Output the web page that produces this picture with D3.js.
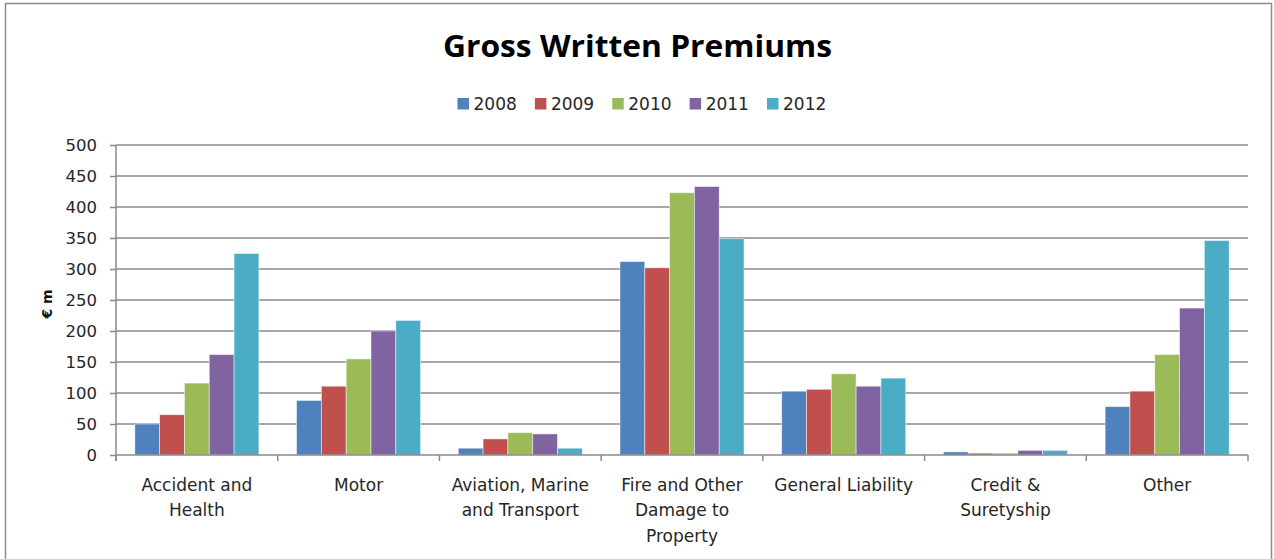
<!DOCTYPE html>
<html><head><meta charset="utf-8">
<script src="https://cdn.jsdelivr.net/npm/d3@7"></script>
<style>
html,body{margin:0;padding:0;background:#fff;}
svg{display:block;}
</style></head>
<body>
<svg id="chart" width="1274" height="559"></svg>
<script>
const categories = [["Accident and","Health"],["Motor"],["Aviation, Marine","and Transport"],["Fire and Other","Damage to","Property"],["General Liability"],["Credit &","Suretyship"],["Other"]];
const categoryKeys = ["Accident and Health","Motor","Aviation, Marine and Transport","Fire and Other Damage to Property","General Liability","Credit & Suretyship","Other"];
const years = ["2008","2009","2010","2011","2012"];
const colors = ["#4F81BD","#C0504D","#9BBB59","#8064A2","#4BACC6"];
const v2008 = [50, 88, 11, 312, 103, 5, 78];
const v2009 = [65, 111, 26, 302, 106, 3, 103];
const v2010 = [116, 155, 36, 423, 131, 3, 162];
const v2011 = [162, 200, 34, 433, 111, 7.5, 237];
const v2012 = [325, 217, 11, 349, 124, 7.5, 346];
const yTicks = [0,50,100,150,200,250,300,350,400,450,500];
const series = [v2008, v2009, v2010, v2011, v2012];

const svg = d3.select("#chart");
const FONT = "'DejaVu Sans', Verdana, sans-serif";
const TFONT = "'Open Sans', Calibri, sans-serif";

// frame
svg.append("rect").attr("x",5.5).attr("y",3.5).attr("width",1266).attr("height",570)
  .attr("fill","#fff").attr("stroke","#8c8c8c").attr("stroke-width",1.5);

const pLeft = 116, pRight = 1248, pTop = 145, pBottom = 455;
const x0 = d3.scaleBand().domain(categoryKeys).range([pLeft,pRight]).paddingInner(0.233).paddingOuter(0.1165);
const xBand = d3.scaleBand().domain(categoryKeys).range([pLeft,pRight]);
const x1 = d3.scaleBand().domain(years).range([0,x0.bandwidth()]);
const y = d3.scaleLinear().domain([0,500]).range([pBottom,pTop]);

// gridlines
svg.append("g").selectAll("line").data(yTicks.filter(d=>d>0)).join("line")
  .attr("x1",pLeft).attr("x2",pRight).attr("y1",d=>y(d)).attr("y2",d=>y(d))
  .attr("stroke","#8a8a8a").attr("stroke-width",1.5);

// y axis
const yAxis = d3.axisLeft(y).tickValues(yTicks).tickSize(6).tickPadding(13);
const gy = svg.append("g").attr("transform",`translate(${pLeft},0)`).call(yAxis);
gy.select(".domain").attr("stroke","#8a8a8a").attr("stroke-width",1.5).attr("d",`M0,${pTop}V${pBottom+6}`);
gy.selectAll(".tick line").attr("stroke","#8a8a8a").attr("stroke-width",1.5);
gy.selectAll(".tick text").attr("font-family",FONT).attr("font-size",16.5).attr("fill","#262626");

// bars
const groups = svg.append("g").selectAll("g").data(years).join("g").attr("fill",(d,i)=>colors[i]);
groups.selectAll("rect").data((yr,i)=>categoryKeys.map((c,j)=>({c, yr, v: series[i][j]}))).join("rect")
  .attr("x",d=>x0(d.c)+x1(d.yr)).attr("width",x1.bandwidth())
  .attr("y",d=>y(d.v)).attr("height",d=>y(0)-y(d.v))
  .attr("stroke","#ffffff").attr("stroke-opacity",0.6).attr("stroke-width",0.8);

// x axis
const xAxis = d3.axisBottom(xBand).tickSize(0).tickFormat("");
const gx = svg.append("g").attr("transform",`translate(0,${pBottom})`).call(xAxis);
gx.select(".domain").attr("stroke","#8a8a8a").attr("stroke-width",1.5).attr("d",`M${pLeft},0H${pRight}`);
const bounds = categoryKeys.map(c=>xBand(c)).concat([pRight]);
svg.append("g").selectAll("line").data(bounds).join("line")
  .attr("x1",d=>d).attr("x2",d=>d).attr("y1",pBottom).attr("y2",pBottom+6)
  .attr("stroke","#8a8a8a").attr("stroke-width",1.5);

// x labels
const labG = svg.append("g");
categoryKeys.forEach((c,i)=>{
  const t = labG.append("text").attr("text-anchor","middle").attr("font-family",FONT).attr("font-size",17).attr("fill","#262626");
  categories[i].forEach((line,k)=>{
    t.append("tspan").attr("x",xBand(c)+xBand.bandwidth()/2).attr("y",490.5+k*25.5).text(line);
  });
});

// y title
svg.append("text").attr("transform","translate(52,304) rotate(-90)").attr("text-anchor","middle")
  .attr("font-family",FONT).attr("font-weight","bold").attr("font-size",14).attr("fill","#111").text("€ m");

// title
svg.append("text").attr("x",637.5).attr("y",56.5).attr("text-anchor","middle")
  .attr("font-family",TFONT).attr("font-weight","bold").attr("font-size",30).attr("fill","#000")
  .attr("textLength",389).attr("lengthAdjust","spacingAndGlyphs")
  .text("Gross Written Premiums");

// legend
const legX = d3.scalePoint().domain(years).range([457.5,767]);
const lg = svg.append("g").selectAll("g").data(years).join("g").attr("transform",d=>`translate(${legX(d)},0)`);
lg.append("rect").attr("x",0).attr("y",98).attr("width",11.5).attr("height",11.5).attr("fill",(d,i)=>colors[i]);
lg.append("text").attr("x",16).attr("y",110).attr("font-family",FONT).attr("font-size",17).attr("fill","#262626").text(d=>d);
</script>
</body></html>
